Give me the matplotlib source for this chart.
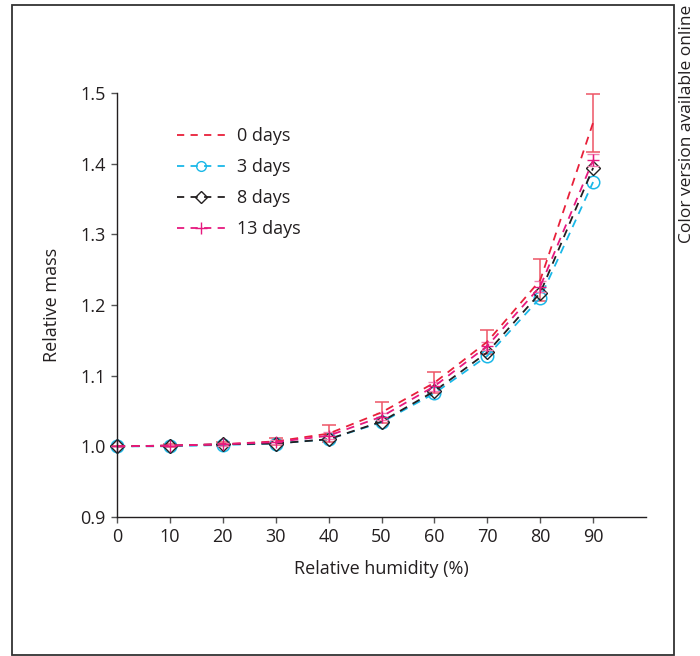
import matplotlib
matplotlib.use('Agg')
import matplotlib.pyplot as plt
from matplotlib.patches import Rectangle
from matplotlib.lines import Line2D

plt.rcParams['font.family'] = ['Open Sans', 'DejaVu Sans']

# relative humidity (%)
humidity = [0, 10, 20, 30, 40, 50, 60, 70, 80, 90]

# relative mass per storage time
mass_0d = [1.000, 1.001, 1.003, 1.007, 1.018, 1.048, 1.090, 1.148, 1.235, 1.458]
err_0d = [0.000, 0.002, 0.003, 0.005, 0.012, 0.015, 0.015, 0.017, 0.030, 0.041]
mass_3d = [1.000, 1.000, 1.002, 1.004, 1.010, 1.034, 1.075, 1.128, 1.210, 1.374]
mass_8d = [1.000, 1.001, 1.003, 1.004, 1.010, 1.035, 1.078, 1.133, 1.217, 1.394]
mass_13d = [1.000, 1.001, 1.003, 1.006, 1.015, 1.042, 1.085, 1.142, 1.226, 1.405]
err_13d = [0.000, 0.001, 0.002, 0.003, 0.005, 0.005, 0.006, 0.006, 0.008, 0.009]
labels = ['0 days', '3 days', '8 days', '13 days']

red = '#e8203a'
cyan = '#1ab8e8'
black = '#231f20'
pink = '#e6197f'
dash = (0, (4.5, 3.5))

fig = plt.figure(figsize=(7.0, 6.56), dpi=100)
ax = fig.add_axes([117 / 700, 1 - 517 / 656, (646 - 117) / 700, (517 - 93) / 656])

ax.errorbar(humidity, mass_0d, yerr=err_0d, color=red, ls=dash, lw=1.3,
            ecolor='#ee5566', elinewidth=1.1, capsize=5, capthick=1.1)
ax.plot(humidity, mass_3d, color=cyan, ls=dash, lw=1.3, marker='o', ms=9,
        mfc='none', mec=cyan, mew=1.1)
ax.plot(humidity, mass_8d, color=black, ls=dash, lw=1.3, marker='D', ms=7.5,
        mfc='none', mec=black, mew=1.0)
ax.errorbar(humidity, mass_13d, yerr=err_13d, color=pink, ls=dash, lw=1.3,
            marker='+', ms=9, mew=1.0, ecolor='#f080b0', elinewidth=1.0,
            capsize=4, capthick=1.0)

ax.set_xlim(0, 100)
ax.set_ylim(0.9, 1.5)
ax.set_xticks(humidity)
ax.set_yticks([0.9, 1.0, 1.1, 1.2, 1.3, 1.4, 1.5])
ax.set_yticklabels(['0.9', '1.0', '1.1', '1.2', '1.3', '1.4', '1.5'])
for s in ['top', 'right']:
    ax.spines[s].set_visible(False)
for s in ['left', 'bottom']:
    ax.spines[s].set_color(black)
    ax.spines[s].set_linewidth(1.0)
ax.tick_params(direction='out', length=4, width=1.0, color='#555555',
               labelsize=13, labelcolor=black, pad=4)
ax.set_xlabel('Relative humidity (%)', fontsize=13, color=black, labelpad=10)
ax.set_ylabel('Relative mass', fontsize=13, color=black, labelpad=14)
for art in ax.get_children():
    art.set_clip_on(False)

handles = [
    Line2D([], [], color=red, ls=(0, (4, 3.5)), lw=1.3),
    Line2D([], [], color=cyan, ls=(0, (4, 3.5)), lw=1.3, marker='o', ms=7,
           mfc='none', mec=cyan, mew=1.0),
    Line2D([], [], color=black, ls=(0, (4, 3.5)), lw=1.3, marker='D', ms=6,
           mfc='none', mec=black, mew=1.0),
    Line2D([], [], color=pink, ls=(0, (4, 3.5)), lw=1.3, marker='+', ms=8, mew=1.0),
]
fig.legend(handles, labels, loc='upper left', bbox_to_anchor=(168 / 700, 1 - 118 / 656),
           frameon=False, fontsize=13, handlelength=2.7, handletextpad=0.6,
           labelspacing=0.72, borderpad=0, labelcolor=black)

fig.patches.append(Rectangle((12 / 700, 1 - 655 / 656), (674 - 12) / 700, (655 - 5) / 656,
                             transform=fig.transFigure, fill=False,
                             edgecolor='#333333', lw=1.3))
fig.text(687 / 700, 1 - 5 / 656, 'Color version available online', rotation=90,
         ha='center', va='top', fontsize=12.5, color=black)

fig.savefig('out.png', dpi=100)
